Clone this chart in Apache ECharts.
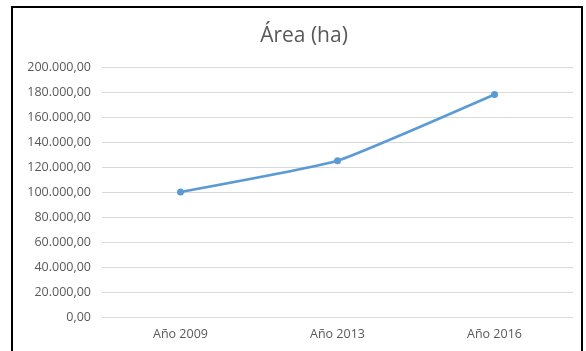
<!DOCTYPE html>
<html>
<head>
<meta charset="utf-8">
<script src="https://cdn.jsdelivr.net/npm/echarts@6/dist/echarts.min.js"></script>
<style>
  html, body { margin: 0; padding: 0; background: #fff; }
  #chart { width: 586px; height: 351px; }
</style>
</head>
<body>
<div id="chart"></div>
<script>
const categories = ['Año 2009', 'Año 2013', 'Año 2016']
const areaValues = [100000, 125000, 178000]
const yTicks = { min: 0, max: 200000, interval: 20000 }

// 200000 -> "200.000,00"
const fmtEs = (v) => {
  const int = Math.round(v).toString().replace(/\B(?=(\d{3})+(?!\d))/g, '.')
  return int + ',00'
}

const chart = echarts.init(document.getElementById('chart'))

chart.setOption({
  backgroundColor: '#fff',
  animation: false,
  title: {
    text: 'Área (ha)',
    left: 299,
    top: 21,
    textAlign: 'center',
    textStyle: {
      fontFamily: 'Open Sans',
      fontSize: 21,
      fontWeight: 'normal',
      color: '#595959'
    }
  },
  graphic: [
    {
      type: 'rect',
      shape: { x: 12, y: 7, width: 570, height: 370 },
      style: { fill: 'none', stroke: '#000', lineWidth: 2 },
      silent: true
    }
  ],
  grid: {
    left: 102,
    right: 13,
    top: 67,
    bottom: 34
  },
  xAxis: {
    type: 'category',
    data: categories,
    boundaryGap: true,
    axisLine: { show: false },
    axisTick: { show: false },
    axisLabel: {
      margin: 11,
      fontFamily: 'Open Sans',
      fontSize: 12.5,
      color: '#595959'
    }
  },
  yAxis: {
    type: 'value',
    min: yTicks.min,
    max: yTicks.max,
    interval: yTicks.interval,
    axisLine: { show: false },
    axisTick: { show: false },
    splitLine: { lineStyle: { color: '#d9d9d9', width: 1 } },
    axisLabel: {
      margin: 11,
      fontFamily: 'Open Sans',
      fontSize: 12.5,
      color: '#595959',
      formatter: fmtEs
    }
  },
  series: [
    {
      name: 'Área (ha)',
      type: 'line',
      data: areaValues,
      smooth: 0.12,
      symbol: 'circle',
      symbolSize: 7,
      lineStyle: { color: '#5b9bd5', width: 2.5 },
      itemStyle: { color: '#5b9bd5' }
    }
  ]
})
</script>
</body>
</html>
